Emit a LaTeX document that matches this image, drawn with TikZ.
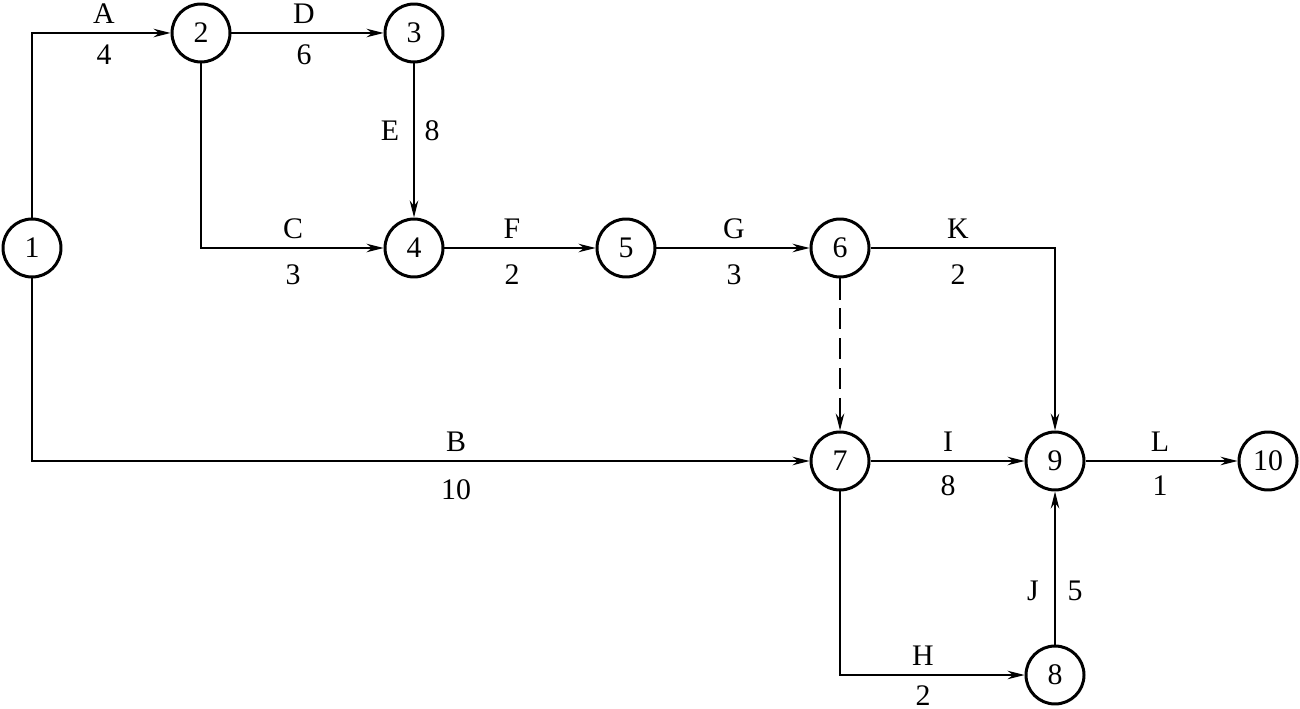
\documentclass[tikz,border=0pt]{standalone}
\usepackage{fontspec}
\setmainfont{Liberation Serif}
\usetikzlibrary{arrows.meta}
\begin{document}
\begin{tikzpicture}[x=0.02cm,y=-0.02cm,
  ev/.style={circle,draw,line width=1.7pt,minimum size=1.16cm,inner sep=0pt,font=\fontsize{17}{20}\selectfont},
  act/.style={line width=0.75pt,-{Stealth[length=3.4mm,width=1.7mm,inset=1.1mm]}},
  lbl/.style={font=\fontsize{17}{20}\selectfont,inner sep=0pt}]
\useasboundingbox (0,0) rectangle (1300,709);
\node[ev] (n1) at (32,248) {1};
\node[ev] (n2) at (201,33) {2};
\node[ev] (n3) at (414,33) {3};
\node[ev] (n4) at (414,248) {4};
\node[ev] (n5) at (626,248) {5};
\node[ev] (n6) at (840,248) {6};
\node[ev] (n7) at (840,461) {7};
\node[ev] (n8) at (1055,675) {8};
\node[ev] (n9) at (1055,461) {9};
\node[ev] (n10) at (1268,461) {10};
\draw[act] (n1.north) |- (n2.west);
\draw[act] (n2) -- (n3);
\draw[act] (n2.south) |- (n4.west);
\draw[act] (n3) -- (n4);
\draw[act] (n4) -- (n5);
\draw[act] (n5) -- (n6);
\draw[act] (n6.east) -| (n9.north);
\draw[act,dashed,dash pattern=on 12pt off 5pt] (n6) -- (n7);
\draw[act] (n1.south) |- (n7.west);
\draw[act] (n7) -- (n9);
\draw[act] (n9) -- (n10);
\draw[act] (n7.south) |- (n8.west);
\draw[act] (n8) -- (n9);
\node[lbl] (lA) at (104,14) {A};
\node[lbl] (vA) at (104,55) {4};
\node[lbl] (lD) at (304,14) {D};
\node[lbl] (vD) at (304,55) {6};
\node[lbl] (lE) at (390,131) {E};
\node[lbl] (vE) at (432,131) {8};
\node[lbl] (lC) at (293,229) {C};
\node[lbl] (vC) at (293,275) {3};
\node[lbl] (lF) at (512,229) {F};
\node[lbl] (vF) at (512,275) {2};
\node[lbl] (lG) at (734,229) {G};
\node[lbl] (vG) at (734,275) {3};
\node[lbl] (lK) at (958,229) {K};
\node[lbl] (vK) at (958,275) {2};
\node[lbl] (lB) at (456,442) {B};
\node[lbl] (vB) at (456,490) {10};
\node[lbl] (lI) at (948,442) {I};
\node[lbl] (vI) at (948,486) {8};
\node[lbl] (lL) at (1160,442) {L};
\node[lbl] (vL) at (1160,486) {1};
\node[lbl] (lH) at (923,656) {H};
\node[lbl] (vH) at (923,696) {2};
\node[lbl] (lJ) at (1033,591) {J};
\node[lbl] (vJ) at (1075,591) {5};
\end{tikzpicture}
\end{document}
